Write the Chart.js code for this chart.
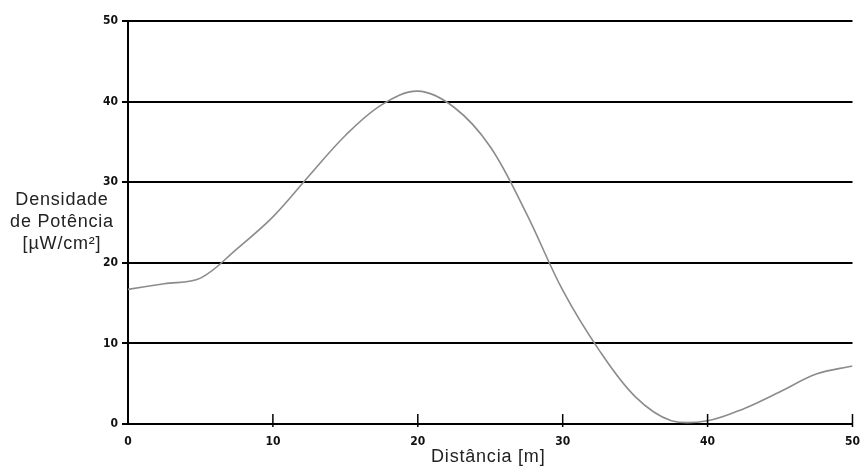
<!DOCTYPE html>
<html>
<head>
<meta charset="utf-8">
<script src="https://cdn.jsdelivr.net/npm/chart.js@4/dist/chart.umd.min.js"></script>
<style>
  html, body { margin: 0; padding: 0; background: #fff; }
  #wrap { width: 863px; height: 468px; }
</style>
</head>
<body>
<div id="wrap"><canvas id="powerChart" width="863" height="468"></canvas></div>
<script>
// distance along the path [m]
const distances = [0, 2.5, 5, 7.5, 10, 12.5, 15, 17.5, 20, 22.5, 25, 27.5, 30, 32.5, 35, 37.5, 40, 42.5, 45, 47.5, 50];
// power density [µW/cm²]
const density = [16.7, 17.4, 18.1, 21.7, 25.7, 30.8, 35.8, 39.6, 41.3, 39.3, 34.4, 26.1, 16.6, 9.2, 3.4, 0.4, 0.4, 1.9, 4.0, 6.2, 7.2];
const xTicks = [0, 10, 20, 30, 40, 50];
const yTicks = [0, 10, 20, 30, 40, 50];
const yTitle = ["Densidade", "de Potência", "[µW/cm²]"];
const xTitle = "Distância [m]";

const tickFont = { family: "'DejaVu Sans Condensed', 'Liberation Sans Narrow', sans-serif", size: 12, weight: "bold" };

// titles drawn flat (the y one is not rotated) + little x tick marks that poke up into the plot
const extras = {
  id: "extras",
  afterDraw(chart) {
    const { ctx, chartArea, scales } = chart;
    ctx.save();
    ctx.strokeStyle = "#000";
    ctx.lineWidth = 1.5;
    xTicks.slice(1).forEach(v => {
      const px = scales.x.getPixelForValue(v);
      ctx.beginPath();
      ctx.moveTo(px, chartArea.bottom - 10);
      ctx.lineTo(px, chartArea.bottom + 3);
      ctx.stroke();
    });

    ctx.fillStyle = "#222";
    ctx.font = "18px 'Liberation Sans', Arial, sans-serif";
    ctx.letterSpacing = "0.8px";
    ctx.textAlign = "center";
    ctx.textBaseline = "middle";
    const midY = (chartArea.top + chartArea.bottom) / 2;
    yTitle.forEach((line, i) => {
      ctx.fillText(line, 62, midY + (i - 1) * 22);
    });
    ctx.fillText(xTitle, (chartArea.left + chartArea.right) / 2 - 2, chartArea.bottom + 33);
    ctx.restore();
  }
};

const ctx = document.getElementById("powerChart").getContext("2d");
new Chart(ctx, {
  type: "line",
  data: {
    datasets: [{
      data: distances.map((d, i) => ({ x: d, y: density[i] })),
      borderColor: "#8c8c8c",
      borderWidth: 1.6,
      pointRadius: 0,
      fill: false,
      tension: 0.35
    }]
  },
  options: {
    responsive: false,
    animation: false,
    layout: { padding: { top: 21, right: 8, left: 0, bottom: 0 } },
    plugins: {
      legend: { display: false },
      tooltip: { enabled: false }
    },
    scales: {
      x: {
        type: "linear",
        min: 0,
        max: 50,
        afterBuildTicks: s => { s.ticks = xTicks.map(v => ({ value: v })); },
        afterFit: s => { s.height = 44; },
        grid: { display: false, drawOnChartArea: false },
        border: { display: true, color: "#000", width: 2 },
        ticks: { color: "#111", font: tickFont, padding: 3, maxRotation: 0 }
      },
      y: {
        min: 0,
        max: 50,
        afterBuildTicks: s => { s.ticks = yTicks.map(v => ({ value: v })); },
        afterFit: s => { s.width = 128; },
        grid: { color: "#000", lineWidth: 2, tickLength: 6, drawTicks: true },
        border: { display: true, color: "#000", width: 2 },
        ticks: { color: "#111", font: tickFont, padding: 4 }
      }
    }
  },
  plugins: [extras]
});
</script>
</body>
</html>
